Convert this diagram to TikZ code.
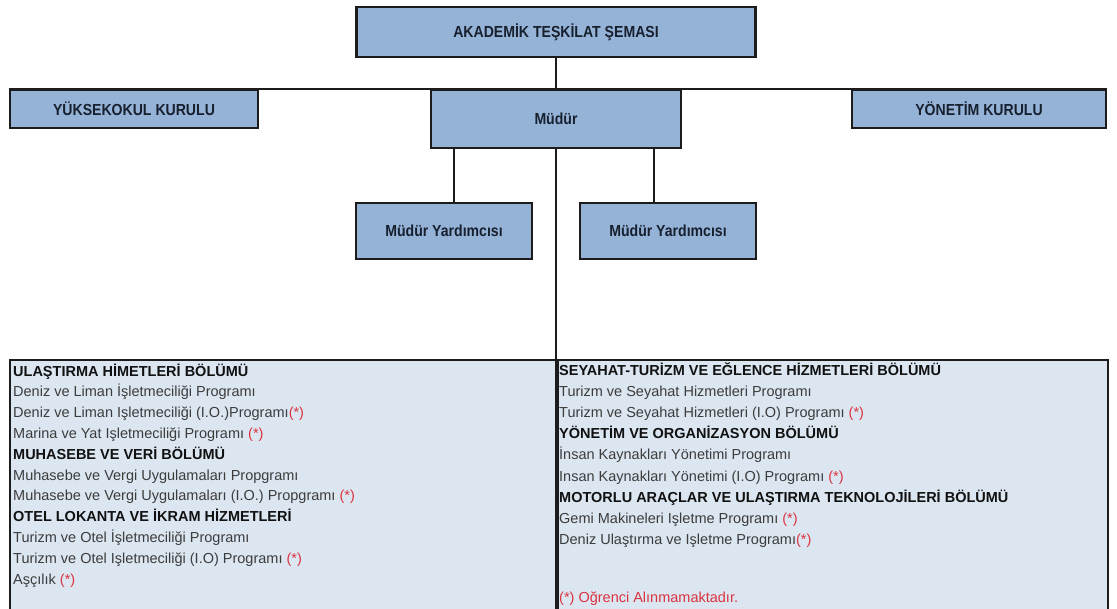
\documentclass[tikz,border=0pt]{standalone}
\usepackage{fontspec}
\setmainfont{Liberation Sans}
\newfontfamily\kutufont[FakeStretch=0.88]{Liberation Sans}
\usetikzlibrary{positioning}
\definecolor{kutumavi}{HTML}{95B3D7}
\definecolor{bolummavi}{HTML}{DCE6F1}
\definecolor{cizgi}{HTML}{1C1C1C}
\definecolor{yazi}{HTML}{17202E}
\definecolor{griyazi}{HTML}{3C3C3C}
\definecolor{koyu}{HTML}{111111}
\definecolor{kirmizi}{HTML}{D93440}
\newcommand{\alinmaz}{\textcolor{kirmizi}{(*)}}
\newcommand{\bolum}[1]{\textcolor{koyu}{\textbf{#1}}}
\tikzset{
  basic/.style = {draw=cizgi, line width=2.2pt, rectangle, inner sep=0pt},
  root/.style  = {basic, fill=kutumavi, text=yazi,
                  font=\kutufont\bfseries\fontsize{16}{18}\selectfont},
  dept/.style  = {basic, line width=2pt, fill=bolummavi, minimum height=253pt},
  list/.style  = {anchor=north west, inner sep=0pt, align=left, text=griyazi,
                  font=\fontsize{14.5}{20.8}\selectfont},
  link/.style  = {draw=cizgi, line width=2pt}
}

\begin{document}
\begin{tikzpicture}[x=1pt,y=-1pt]
\useasboundingbox (0,0) rectangle (1117,609);

% en ust
\node[root, minimum width=399pt, minimum height=50pt] (baslik) at (556,32) {AKADEMİK TEŞKİLAT ŞEMASI};
\node[root, minimum width=250pt, minimum height=58pt, below=31pt of baslik] (mudur) {Müdür};

% kurullar
\node[root, minimum width=248pt, minimum height=38pt] (yk) at (134,109) {YÜKSEKOKUL KURULU};
\node[root, minimum width=254pt, minimum height=38pt] (yon) at (979,109) {YÖNETİM KURULU};

% yardimcilar
\node[root, minimum width=176pt, minimum height=56pt] (myl) at (444,231) {Müdür Yardımcısı};
\node[root, minimum width=176pt, minimum height=56pt] (myr) at (668,231) {Müdür Yardımcısı};

% bolumler
\node[dept, minimum width=546pt, anchor=north west] (solbolum) at (9,359) {};
\node[dept, minimum width=550pt, right=0pt of solbolum] (sagbolum) {};

\node[list] (solliste) at (13,363.5) {%
  \bolum{ULAŞTIRMA HİMETLERİ BÖLÜMÜ}\\
  Deniz ve Liman İşletmeciliği Programı\\
  Deniz ve Liman Işletmeciliği (I.O.)Programı\alinmaz\\
  Marina ve Yat Işletmeciliği Programı \alinmaz\\
  \bolum{MUHASEBE VE VERİ BÖLÜMÜ}\\
  Muhasebe ve Vergi Uygulamaları Propgramı\\
  Muhasebe ve Vergi Uygulamaları (I.O.) Propgramı \alinmaz\\
  \bolum{OTEL LOKANTA VE İKRAM HİZMETLERİ}\\
  Turizm ve Otel İşletmeciliği Programı\\
  Turizm ve Otel Işletmeciliği (I.O) Programı \alinmaz\\
  Aşçılık \alinmaz};

\node[list, font=\fontsize{14.5}{21.2}\selectfont] (sagliste) at (559,362) {%
  \bolum{SEYAHAT-TURİZM VE EĞLENCE HİZMETLERİ BÖLÜMÜ}\\
  Turizm ve Seyahat Hizmetleri Programı\\
  Turizm ve Seyahat Hizmetleri (I.O) Programı \alinmaz\\
  \bolum{YÖNETİM VE ORGANİZASYON BÖLÜMÜ}\\
  İnsan Kaynakları Yönetimi Programı\\
  Insan Kaynakları Yönetimi (I.O) Programı \alinmaz\\
  \bolum{MOTORLU ARAÇLAR VE ULAŞTIRMA TEKNOLOJİLERİ BÖLÜMÜ}\\
  Gemi Makineleri Işletme Programı \alinmaz\\
  Deniz Ulaştırma ve Işletme Programı\alinmaz};

\node[anchor=west, inner sep=0pt, text=kirmizi, font=\fontsize{14.5}{16}\selectfont] (dipnot) at (559,599) {(*) Oğrenci Alınmamaktadır.};

% baglantilar
\draw[link] (baslik) -- (mudur);
\draw[link] (yk.north west) -- (yon.north east);
\draw[link] (mudur.south) -- (mudur.south |- solbolum.north);
\draw[link] ([xshift=10pt]myl.north) -- ([xshift=10pt]myl.north |- mudur.south);
\draw[link] ([xshift=-14pt]myr.north) -- ([xshift=-14pt]myr.north |- mudur.south);

\end{tikzpicture}
\end{document}
